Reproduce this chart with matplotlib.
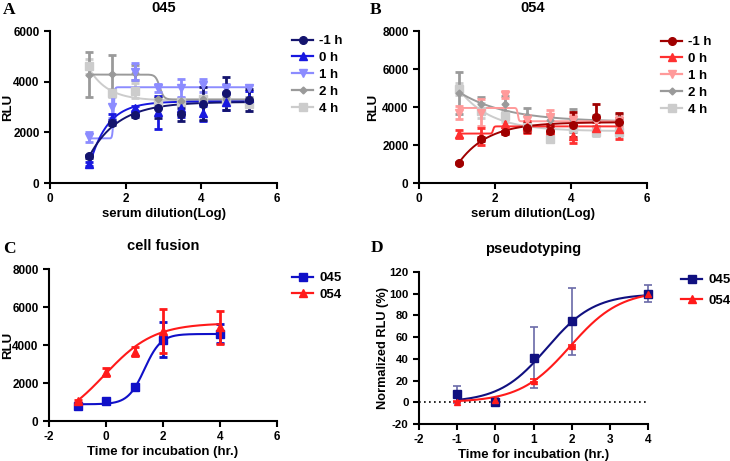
import numpy as np
import matplotlib
matplotlib.use("Agg")
import matplotlib.pyplot as plt

# ------------------------------------------------------------------ #
#  DATA                                                               #
# ------------------------------------------------------------------ #
DIL = [1.04, 1.64, 2.25, 2.85, 3.45, 4.05, 4.66, 5.26]     # serum dilution (log)
HOURS = ["-1 h", "0 h", "1 h", "2 h", "4 h"]

# panel A : 045
A_Y = {
    "-1 h": [1060, 2370, 2690, 2970, 2720, 3120, 3540, 3280],
    "0 h":  [750, 2560, 2950, 2800, 2950, 2750, 3200, 3350],
    "1 h":  [1800, 3000, 4400, 3750, 3750, 3850, 3750, 3750],
    "2 h":  [4280, 4300, 4350, 3300, 3250, 3300, 3300, 3300],
    "4 h":  [4600, 3550, 3650, 3200, 3200, 3300, 3200, 3100],
}
A_ERR = {
    "-1 h": [60, 100, 80, 400, 260, 650, 650, 430],
    "0 h":  [60, 150, 100, 650, 350, 300, 300, 300],
    "1 h":  [200, 450, 350, 150, 350, 250, 150, 100],
    "2 h":  [900, 750, 300, 100, 100, 100, 100, 100],
    "4 h":  [300, 150, 300, 100, 100, 100, 100, 250],
}
# fitted curves : ("exp", start, plateau, k) or ("sig", left, right, centre, slope)
A_FIT = {
    "-1 h": ("exp", 1060, 3200, 1.3),
    "0 h":  ("exp", 680, 3220, 2.1),
    "1 h":  ("sig", 1760, 3780, 1.68, 30),
    "2 h":  ("sig", 4280, 3300, 2.9, 8),
    "4 h":  ("exp", 4500, 3250, 2.0),
}

# panel B : 054
B_Y = {
    "-1 h": [1040, 2330, 2670, 2910, 2735, 3070, 3490, 3210],
    "0 h":  [2580, 2450, 3100, 2950, 2800, 2500, 2900, 2850],
    "1 h":  [3700, 3700, 4650, 3300, 3450, 3300, 3250, 3250],
    "2 h":  [4750, 4150, 4150, 3500, 3300, 3300, 3300, 3350],
    "4 h":  [4950, 3800, 3500, 2950, 2300, 2900, 2700, 2700],
}
B_ERR = {
    "-1 h": [60, 100, 80, 250, 250, 650, 650, 500],
    "0 h":  [200, 450, 450, 300, 300, 400, 300, 550],
    "1 h":  [350, 700, 200, 300, 400, 300, 300, 300],
    "2 h":  [1100, 400, 450, 450, 300, 600, 300, 300],
    "4 h":  [300, 400, 300, 200, 150, 200, 200, 200],
}
B_FIT = {
    "-1 h": ("exp", 1040, 3200, 1.3),
    "0 h":  ("sig", 2600, 2980, 1.95, 30),
    "1 h":  ("sig", 3950, 3250, 2.6, 30),
    "2 h":  ("exp", 4800, 3220, 0.8),
    "4 h":  ("exp", 4950, 2730, 1.2),
}

# panels C / D : time for incubation
T_INC = [-1, 0, 1, 2, 4]
C_045 = [780, 1050, 1800, 4280, 4580]
C_045_ERR = [80, 80, 150, 920, 500]
C_054 = [1050, 2580, 3650, 4750, 4925]
C_054_ERR = [80, 200, 250, 1150, 875]
C_FIT = {"045": ("sig", 880, 4580, 1.35, 1.5), "054": ("sig", -300, 5150, -0.05, 0.5)}

D_045 = [7.4, 0.3, 41, 74.5, 100]
D_045_ERR = [8, 4, 28, 31, 8]
D_054 = [0.5, 2, 20, 51.5, 100]
D_054_ERR = [0.5, 0.5, 1, 1, 0.5]
D_FIT = {"045": ("sig", 0, 100, 1.35, 0.7), "054": ("sig", 0, 103, 1.96, 0.66)}

# ------------------------------------------------------------------ #
SANS = "Liberation Sans"
plt.rcParams["font.family"] = [SANS, "DejaVu Sans"]
plt.rcParams["font.weight"] = "bold"
plt.rcParams["axes.unicode_minus"] = False

COL_A = {"-1 h": "#14146e", "0 h": "#1818e0", "1 h": "#8c8cff", "2 h": "#9a9a9a", "4 h": "#cccccc"}
COL_B = {"-1 h": "#a00000", "0 h": "#ff3030", "1 h": "#ff9a9a", "2 h": "#9a9a9a", "4 h": "#cccccc"}
MARK = {"-1 h": "o", "0 h": "^", "1 h": "v", "2 h": "D", "4 h": "s"}
MSIZE = {"-1 h": 5.5, "0 h": 5.5, "1 h": 5.5, "2 h": 3.5, "4 h": 5.5}


def curve(fit, x):
    if fit[0] == "exp":
        _, y0, top, k = fit
        return top - (top - y0) * np.exp(-k * (x - x[0]))
    _, left, right, c, h = fit
    return left + (right - left) / (1 + 10 ** ((c - x) * h))


def style(ax, xlim, xt, ylim, yt):
    ax.set_xlim(*xlim); ax.set_ylim(*ylim)
    ax.set_xticks(xt); ax.set_yticks(yt)
    ax.spines[["top", "right"]].set_visible(False)
    for s in ("left", "bottom"):
        ax.spines[s].set_linewidth(1.5)
    ax.tick_params(width=1.5, length=4, labelsize=8.5)
    for lab in ax.get_xticklabels() + ax.get_yticklabels():
        lab.set_fontweight("bold")


def labels(ax, xlabel, ylabel, ylab_right, fs=9.5):
    # ylab_right : right edge of the rotated y label, in figure pixels
    ax.set_xlabel(xlabel, fontsize=9.5, fontweight="bold", labelpad=2)
    ax.set_ylabel(ylabel, fontsize=fs, fontweight="bold")
    x0 = ax.get_position().x0 * 730
    w = ax.get_position().width * 730
    ax.yaxis.set_label_coords((ylab_right - x0) / w, 0.5)


def legend(ax, x, y, fs=9.5, spacing=0.35):
    ax.legend(loc="upper left", bbox_to_anchor=(x / 730, 1 - y / 461),
              bbox_transform=ax.figure.transFigure, frameon=False,
              handlelength=1.6, handletextpad=0.45,
              labelspacing=spacing, borderpad=0, borderaxespad=0,
              prop={"weight": "bold", "size": fs})


fig = plt.figure(figsize=(7.3, 4.61), dpi=100)
axA = fig.add_axes([50 / 730, 1 - 183 / 461, 227 / 730, 152 / 461])
axB = fig.add_axes([419 / 730, 1 - 183 / 461, 228 / 730, 152 / 461])
axC = fig.add_axes([49 / 730, 1 - 421 / 461, 228 / 730, 152 / 461])
axD = fig.add_axes([419 / 730, 1 - 424 / 461, 229 / 730, 152 / 461])

# --- A / B -----------------------------------------------------------
xd = np.array(DIL)
xs = np.linspace(DIL[0], DIL[-1], 400)
for ax, Y, E, F, C in ((axA, A_Y, A_ERR, A_FIT, COL_A), (axB, B_Y, B_ERR, B_FIT, COL_B)):
    for h in HOURS[::-1]:
        ax.errorbar(xd, Y[h], yerr=E[h], fmt="none", ecolor=C[h], elinewidth=2,
                    capsize=3, capthick=2, zorder=2)
        ax.plot(xd, Y[h], MARK[h], color=C[h], ms=MSIZE[h], zorder=3)
        ax.plot(xs, curve(F[h], xs), color=C[h], lw=1.4, zorder=2)
    for h in HOURS:
        ax.plot([], [], marker=MARK[h], color=C[h], ms=MSIZE[h], lw=1.6, label=h)

style(axA, (0, 6), [0, 2, 4, 6], (0, 6000), [0, 2000, 4000, 6000])
style(axB, (0, 6), [0, 2, 4, 6], (0, 8000), [0, 2000, 4000, 6000, 8000])
axA.set_title("045", fontsize=10.5, fontweight="bold", pad=14)
axB.set_title("054", fontsize=10.5, fontweight="bold", pad=14)
labels(axA, "serum dilution(Log)", "RLU", 14)
labels(axB, "serum dilution(Log)", "RLU", 379)
legend(axA, 292, 35)
legend(axB, 661, 36)

# --- C ---------------------------------------------------------------
xt = np.array(T_INC, dtype=float)
xs = np.linspace(-1, 4, 400)
for name, y, e, col, m in (("045", C_045, C_045_ERR, "#1010c8", "s"),
                           ("054", C_054, C_054_ERR, "#ff1a1a", "^")):
    axC.errorbar(xt, y, yerr=e, fmt="none", ecolor=col, elinewidth=2, capsize=3, capthick=2)
    axC.plot(xt, y, m, color=col, ms=5.5)
    axC.plot(xs, curve(C_FIT[name], xs), color=col, lw=1.5)
    axC.plot([], [], marker=m, color=col, ms=5.5, lw=1.6, label=name)
style(axC, (-2, 6), [-2, 0, 2, 4, 6], (0, 8000), [0, 2000, 4000, 6000, 8000])
axC.set_title("cell fusion", fontsize=10.5, fontweight="bold", pad=14)
labels(axC, "Time for incubation (hr.)", "RLU", 14)
legend(axC, 292, 272)

# --- D ---------------------------------------------------------------
axD.axhline(0, color="black", lw=1.2, ls=(0, (1, 2)), zorder=1)
for name, y, e, col, ecol, m in (("045", D_045, D_045_ERR, "#101080", "#6a6aa8", "s"),
                                 ("054", D_054, D_054_ERR, "#ff1a1a", "#ff1a1a", "^")):
    axD.errorbar(xt, y, yerr=e, fmt="none", ecolor=ecol, elinewidth=1.2, capsize=3,
                 capthick=1.2, clip_on=False)
    axD.plot(xt, y, m, color=col, ms=6 if m == "s" else 5, clip_on=False, zorder=4)
    axD.plot(xs, curve(D_FIT[name], xs), color=col, lw=1.5, zorder=3)
    axD.plot([], [], marker=m, color=col, ms=6, lw=1.6, label=name)
style(axD, (-2, 4), [-2, -1, 0, 1, 2, 3, 4], (-20, 120), list(range(-20, 121, 20)))
axD.tick_params(axis="y", labelsize=8.2)
axD.set_title("pseudotyping", fontsize=10.5, fontweight="bold", pad=14)
labels(axD, "Time for incubation (hr.)", "Normalized RLU (%)", 389, fs=9.2)
legend(axD, 681, 274, fs=9.5, spacing=0.65)

# panel letters
for lab, x, y in (("A", 3, 10), ("B", 370, 10), ("C", 3, 249), ("D", 371, 248)):
    fig.text(x / 730, 1 - y / 461, lab, fontsize=12.5, fontweight="bold",
             family="Liberation Serif", va="center", ha="left")

fig.savefig("out.png", dpi=100, facecolor="white")
